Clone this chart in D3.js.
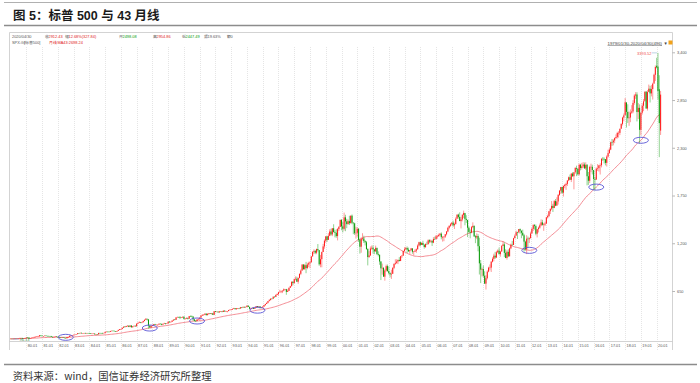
<!DOCTYPE html>
<html><head><meta charset="utf-8">
<script src="https://cdn.jsdelivr.net/npm/d3@7"></script>
<style>body{margin:0;background:#fff}svg{display:block}</style>
</head><body>
<svg id="c" width="700" height="383"></svg>
<script>
// ---- DATA (S&P 500 monthly, 1979-01 .. 2020-04) ----
const startYear = 1979;
const closes = [
99.93,96.28,101.59,101.76,99.08,102.91,103.81,109.32,109.32,101.82,106.16,107.94,
114.16,113.66,102.09,106.29,111.24,114.24,121.67,122.38,125.46,127.47,140.52,135.76,
129.55,131.27,136.00,132.81,132.59,131.21,130.92,122.79,116.18,121.89,126.35,122.55,
120.40,113.11,111.96,116.44,111.88,109.61,107.09,119.51,120.42,133.71,138.54,140.64,
145.30,148.06,152.96,164.42,162.39,168.11,162.56,164.40,166.07,163.55,166.40,164.93,
163.41,157.06,159.18,160.05,150.55,153.18,150.66,166.68,166.10,166.09,163.58,167.24,
179.63,181.18,180.66,179.83,189.55,191.85,190.92,188.63,182.08,189.82,202.17,211.28,
211.78,226.92,238.90,235.52,247.35,250.84,236.12,252.93,231.32,243.98,249.22,242.17,
274.08,284.20,291.70,288.36,290.10,304.00,318.66,329.80,321.83,251.79,230.30,247.08,
257.07,267.82,258.89,261.33,262.16,273.50,272.02,261.52,271.91,278.97,273.70,277.72,
297.47,288.86,294.87,309.64,320.52,317.98,346.08,351.45,349.15,340.36,345.99,353.40,
329.08,331.89,339.94,330.80,361.23,358.02,356.15,322.56,306.05,304.00,322.22,330.22,
343.93,367.07,375.22,375.34,389.83,371.16,387.81,395.43,387.86,392.46,375.22,417.09,
408.79,412.70,403.69,414.95,415.35,408.14,424.21,414.03,417.80,418.68,431.35,435.71,
438.78,443.38,451.67,440.19,450.19,450.53,448.13,463.56,458.93,467.83,461.79,466.45,
481.61,467.14,445.77,450.91,456.50,444.27,458.26,475.49,462.69,472.35,453.69,459.27,
470.42,487.39,500.71,514.71,533.40,544.75,562.06,561.88,584.41,581.50,605.37,615.93,
636.02,640.43,645.50,654.17,669.12,670.63,639.95,651.99,687.31,705.27,757.02,740.74,
786.16,790.82,757.12,801.34,848.28,885.14,954.29,899.47,947.28,914.62,955.40,970.43,
980.28,1049.34,1101.75,1111.75,1090.82,1133.84,1120.67,957.28,1017.01,1098.67,1163.63,1229.23,
1279.64,1238.33,1286.37,1335.18,1301.84,1372.71,1328.72,1320.41,1282.71,1362.93,1388.91,1469.25,
1394.46,1366.42,1498.58,1452.43,1420.60,1454.60,1430.83,1517.68,1436.51,1429.40,1314.95,1320.28,
1366.01,1239.94,1160.33,1249.46,1255.82,1224.42,1211.23,1133.58,1040.94,1059.78,1139.45,1148.08,
1130.20,1106.73,1147.39,1076.92,1067.14,989.82,911.62,916.07,815.28,885.76,936.31,879.82,
855.70,841.15,848.18,916.92,963.59,974.50,990.31,1008.01,995.97,1050.71,1058.20,1111.92,
1131.13,1144.94,1126.21,1107.30,1120.68,1140.84,1101.72,1104.24,1114.58,1130.20,1173.82,1211.92,
1181.27,1203.60,1180.59,1156.85,1191.50,1191.33,1234.18,1220.33,1228.81,1207.01,1249.48,1248.29,
1280.08,1280.66,1294.83,1310.61,1270.09,1270.20,1276.66,1303.82,1335.85,1377.94,1400.63,1418.30,
1438.24,1406.82,1420.86,1482.37,1530.62,1503.35,1455.27,1473.99,1526.75,1549.38,1481.14,1468.36,
1378.55,1330.63,1322.70,1385.59,1400.38,1280.00,1267.38,1282.83,1166.36,968.75,896.24,903.25,
825.88,735.09,797.87,872.81,919.14,919.32,987.48,1020.62,1057.08,1036.19,1095.63,1115.10,
1073.87,1104.49,1169.43,1186.69,1089.41,1030.71,1101.60,1049.33,1141.20,1183.26,1180.55,1257.64,
1286.12,1327.22,1325.83,1363.61,1345.20,1320.64,1292.28,1218.89,1131.42,1253.30,1246.96,1257.60,
1312.41,1365.68,1408.47,1397.91,1310.33,1362.16,1379.32,1406.58,1440.67,1412.16,1416.18,1426.19,
1498.11,1514.68,1569.19,1597.57,1630.74,1606.28,1685.73,1632.97,1681.55,1756.54,1805.81,1848.36,
1782.59,1859.45,1872.34,1883.95,1923.57,1960.23,1930.67,2003.37,1972.29,2018.05,2067.56,2058.90,
1994.99,2104.50,2067.89,2085.51,2107.39,2063.11,2103.84,1972.18,1920.03,2079.36,2080.41,2043.94,
1940.24,1932.23,2059.74,2065.30,2096.95,2098.86,2173.60,2170.95,2168.27,2126.15,2198.81,2238.83,
2278.87,2363.64,2362.72,2384.20,2411.80,2423.41,2470.30,2471.65,2519.36,2575.26,2647.58,2673.61,
2823.81,2713.83,2640.87,2648.05,2705.27,2718.37,2816.29,2901.52,2913.98,2711.74,2760.17,2506.85,
2704.10,2784.49,2834.40,2945.83,2752.06,2941.76,2980.38,2926.46,2976.74,3037.56,3140.98,3230.78,
3225.52,2954.22,2584.59,2912.43
];
const highs = [
102,101,102,104,102,103,105,110,111,110,107,110,
116,119,114,107,112,117,123,126,130,134,141,141,
138,132,138,138,134,134,133,133,123,123,127,127,
123,121,113,119,119,113,112,120,124,137,141,143,
147,149,154,165,166,170,170,165,168,170,167,167,
169,164,160,161,160,155,154,168,169,168,170,168,
180,183,184,183,190,193,196,193,189,190,203,212,
214,227,240,246,248,252,253,254,254,244,251,254,
276,285,301,294,295,309,320,338,330,328,256,252,
260,268,272,265,262,274,276,272,273,284,280,280,
298,300,298,311,322,328,347,354,352,361,347,354,
360,337,345,344,362,368,369,357,326,315,325,331,
344,370,382,384,391,390,391,396,396,393,398,418,
420,414,414,418,419,416,425,425,423,419,432,436,
440,449,456,452,453,453,451,464,464,469,469,471,
483,482,469,453,459,459,459,477,476,474,474,466,
473,488,502,516,534,557,563,564,587,587,609,622,
637,664,656,656,680,673,675,670,690,710,758,762,
794,818,815,804,851,899,960,961,962,986,975,987,
992,1051,1106,1130,1124,1139,1191,1121,1066,1104,1193,1245,
1280,1283,1316,1361,1368,1373,1419,1350,1361,1375,1397,1473,
1478,1445,1553,1528,1481,1474,1517,1519,1531,1443,1437,1390,
1384,1376,1251,1269,1316,1287,1236,1226,1143,1110,1163,1174,
1176,1131,1173,1147,1107,1070,994,966,925,900,954,955,
935,865,895,924,966,1015,1016,1012,1040,1054,1063,1112,
1155,1159,1163,1150,1123,1146,1141,1109,1131,1140,1188,1217,
1218,1212,1229,1192,1199,1219,1245,1245,1243,1233,1271,1276,
1295,1297,1311,1318,1326,1284,1281,1306,1340,1389,1407,1432,
1441,1461,1438,1499,1530,1541,1556,1504,1538,1576,1545,1523,
1471,1396,1359,1398,1441,1405,1293,1314,1304,1264,1007,919,
944,877,832,888,930,956,997,1039,1080,1101,1113,1130,
1150,1113,1180,1220,1209,1131,1120,1130,1151,1196,1228,1263,
1303,1345,1333,1364,1371,1346,1357,1308,1230,1293,1277,1269,
1334,1378,1420,1422,1415,1363,1392,1427,1475,1470,1434,1448,
1504,1530,1570,1598,1687,1655,1698,1710,1730,1768,1814,1849,
1850,1867,1884,1898,1925,1969,1992,2005,2019,2019,2076,2094,
2064,2119,2115,2126,2135,2130,2133,2113,2021,2094,2117,2105,
2038,1962,2073,2112,2103,2121,2178,2194,2188,2169,2214,2278,
2301,2372,2401,2399,2419,2454,2484,2491,2520,2582,2657,2695,
2873,2789,2801,2717,2742,2791,2848,2917,2941,2940,2815,2800,
2708,2813,2861,2949,2954,2964,3028,3014,3022,3050,3154,3248,
3337,3393.52,3136,2954.86
];
const lows = [
96.7,96.13,96.2,100,98,99,102,103,107,99,101,105,
105,111,98,100,104,110,113,117,120,123,126,127,
128,126,129,131,129,129,128,122,112,116,120,121,
114,111,108,111,111,107,102,102,117,120,133,134,
138,142,148,152,159,161,160,159,163,162,161,162,
162,154,154,158,150,149,147,150,163,162,162,161,
163,178,176,177,178,187,189,186,180,181,189,200,
203,210,225,231,234,239,233,234,229,231,239,241,
242,271,281,279,278,289,302,316,309,216,222,223,
242,255,256,256,248,261,264,256,261,270,264,271,
276,287,288,294,306,314,317,344,341,327,338,340,
322,322,331,321,330,356,346,307,300,295,302,320,
309,342,363,370,376,369,371,377,384,380,373,372,
405,407,401,401,409,404,408,413,411,403,418,426,
426,431,442,437,436,442,441,446,451,457,454,460,
465,466,437,435,443,442,443,457,460,458,448,452,
457,469,481,500,508,532,542,555,557,573,579,602,
597,633,625,626,645,659,606,639,650,685,703,716,
737,773,755,733,795,833,885,899,898,855,901,925,
912,979,1045,1076,1074,1074,1105,940,923,923,1099,1137,
1205,1216,1244,1282,1288,1282,1325,1268,1263,1233,1341,1387,
1350,1325,1346,1339,1374,1416,1410,1430,1419,1305,1295,1254,
1275,1215,1081,1091,1232,1203,1175,1124,945,1032,1054,1125,
1081,1074,1102,1064,1049,952,776,838,815,769,872,872,
840,807,789,847,902,951,962,960,990,994,1031,1053,
1105,1124,1088,1102,1076,1113,1079,1060,1099,1090,1128,1163,
1164,1180,1176,1137,1146,1188,1183,1201,1206,1169,1201,1240,
1245,1253,1277,1280,1245,1219,1224,1261,1291,1327,1360,1389,
1403,1390,1364,1416,1484,1484,1455,1371,1452,1490,1407,1435,
1271,1317,1257,1315,1373,1272,1201,1247,1107,840,741,818,
805,731,667,783,866,888,869,979,992,1020,1029,1086,
1071,1045,1105,1168,1040,1028,1011,1040,1049,1132,1173,1181,
1257,1295,1249,1316,1311,1258,1283,1102,1115,1075,1158,1203,
1258,1312,1341,1357,1292,1267,1325,1367,1396,1403,1343,1398,
1426,1485,1501,1537,1582,1560,1604,1627,1633,1646,1746,1768,
1771,1738,1834,1815,1860,1915,1930,1905,1965,1821,2001,1973,
1981,1980,2040,2048,2067,2056,2045,1867,1872,1893,2019,1993,
1812,1810,1937,2034,2026,1992,2074,2148,2119,2097,2084,2187,
2234,2272,2322,2328,2353,2405,2407,2417,2446,2521,2557,2605,
2682,2533,2586,2553,2595,2691,2698,2796,2864,2604,2631,2347,
2444,2682,2722,2848,2751,2729,2952,2822,2892,2855,3050,3070,
3214,2855,2192,2447.49
];
const firstOpen = 96.11;   // open of 1979-01 (= 1978-12 close)
const openOverrides = {"2020-01":3244.67,"2020-02":3235.66,"2020-03":2974.28,"2020-04":2498.08};
const maPeriod = 43;
const yTicks = [650,1200,1750,2300,2850,3400];
const xTickLabels = ["80.01","81.01","82.01","83.01","84.01","85.01","86.01","87.01","88.01","89.01",
"90.01","91.01","92.01","93.01","94.01","95.01","96.01","97.01","98.01","99.01",
"00.01","01.01","02.01","03.01","04.01","05.01","06.01","07.01","08.01","09.01",
"10.01","11.01","12.01","13.01","14.01","15.01","16.01","17.01","18.01","19.01","20.01"];
const circledMonths = ["1982-07","1987-11","1990-11","1994-09","2011-12","2016-03","2019-01"];
const headerLabels = ["2020/04/30","收","2912.43","幅","12.68%(327.84)","开","2498.08","高","2954.86","低","2447.49","振","19.63%","额","0"];
const headerLine2 = ["SPX.GI","[标普500]","月线","MA43:2698.24"];
const rangeLabel = "1979/01/30-2020/04/30(496)";

// ---- BUILD ----
const pad = n => (n < 10 ? "0" : "") + n;
const months = closes.map((_, i) => `${startYear + Math.floor(i / 12)}-${pad(i % 12 + 1)}`);
const monthIndex = m => months.indexOf(m);
const data = closes.map((c, i) => {
  const o = openOverrides[months[i]] !== undefined ? openOverrides[months[i]] : (i === 0 ? firstOpen : closes[i - 1]);
  return { i, o, c, h: highs[i], l: lows[i] };
});
const ma = closes.map((_, i) => d3.mean(closes.slice(Math.max(0, i - maPeriod + 1), i + 1)));

const UP = "#ff1a1a", DOWN = "#0a9a0a";
const svg = d3.select("#c");
const SMALL = "'Liberation Sans','Noto Sans CJK SC',sans-serif";

const x = d3.scaleLinear().domain([0, closes.length - 1]).range([10.6, 660.6]);
const y = d3.scaleLinear().domain([650, 3400]).range([291, 52.3]);

// title & rules
svg.append("line").attr("x1", 4).attr("x2", 697).attr("y1", 2.5).attr("y2", 2.5).attr("stroke", "#b0b0b0").attr("stroke-width", 1);
svg.append("text").attr("x", 13).attr("y", 19.5).attr("font-family", "'Liberation Sans','Noto Sans CJK SC',sans-serif")
  .attr("font-weight", "bold").attr("font-size", 12.5).attr("fill", "#1a1a1a").text("图 5：标普 500 与 43 月线");
svg.append("line").attr("x1", 4).attr("x2", 697).attr("y1", 25.5).attr("y2", 25.5).attr("stroke", "#8c8c8c").attr("stroke-width", 1.5);
svg.append("line").attr("x1", 4).attr("x2", 697).attr("y1", 364.5).attr("y2", 364.5).attr("stroke", "#8c8c8c").attr("stroke-width", 1.5);
svg.append("text").attr("x", 12.7).attr("y", 379.5).attr("font-family", "'Noto Sans CJK SC',sans-serif")
  .attr("font-size", 10.3).attr("fill", "#333").text("资料来源：wind，国信证券经济研究所整理");

// chart frame
const frame = svg.append("g").attr("stroke", "#c8c8c8").attr("stroke-width", 0.8).attr("fill", "none");
frame.append("line").attr("x1", 9.5).attr("x2", 672.5).attr("y1", 32.5).attr("y2", 32.5);
frame.append("line").attr("x1", 9.5).attr("x2", 9.5).attr("y1", 32.5).attr("y2", 350);
frame.append("line").attr("x1", 672.5).attr("x2", 672.5).attr("y1", 32.5).attr("y2", 350);
frame.append("line").attr("x1", 9.5).attr("x2", 672.5).attr("y1", 341.5).attr("y2", 341.5);

// header text
const hx = [12, 45, 48.5, 65, 68.5, 119, 122.5, 153, 156.5, 182, 185.5, 204, 207.5, 227, 230.5];
const hc = ["#555", "#555", "#e02020", "#555", "#e02020", "#555", "#0a9a0a", "#555", "#e02020", "#555", "#0a9a0a", "#555", "#555", "#555", "#555"];
const hdr = svg.append("g").attr("font-family", SMALL).attr("font-size", 3.9);
headerLabels.forEach((t, k) => hdr.append("text").attr("x", hx[k]).attr("y", 38.3).attr("fill", hc[k]).text(t));
const h2x = [12, 24, 49, 57.5], h2c = ["#555", "#555", "#e02020", "#e02020"];
headerLine2.forEach((t, k) => hdr.append("text").attr("x", h2x[k]).attr("y", 44.3).attr("fill", h2c[k]).text(t));
hdr.append("text").attr("x", 662).attr("y", 44.5).attr("text-anchor", "end").attr("font-size", 4.3).attr("fill", "#444")
  .attr("text-decoration", "underline").text(rangeLabel);
hdr.append("text").attr("x", 663.5).attr("y", 44.5).attr("font-size", 4.3).attr("fill", "#444").text("▼");
svg.append("rect").attr("x", 668.5).attr("y", 40.5).attr("width", 4).attr("height", 4).attr("fill", "#f2a21a");

// vertical dotted year gridlines + x labels
const tickIdx = xTickLabels.map(s => { const yy = +s.slice(0, 2); return ((yy >= 50 ? 1900 : 2000) + yy - startYear) * 12; });
svg.append("g").selectAll("line").data(tickIdx).join("line")
  .attr("x1", d => Math.round(x(d)) + 0.5).attr("x2", d => Math.round(x(d)) + 0.5)
  .attr("y1", 47).attr("y2", 350).attr("stroke", "#d4d4d4").attr("stroke-width", 0.6).attr("stroke-dasharray", "1,1");
const xAxis = d3.axisBottom(x).tickValues(tickIdx).tickFormat((d, k) => xTickLabels[k]).tickSize(0).tickPadding(0);
const gx = svg.append("g").attr("transform", "translate(0,341.5)").call(xAxis);
gx.select(".domain").remove();
gx.selectAll("text").attr("text-anchor", "start").attr("dx", 0.9).attr("dy", 0).attr("y", 5.6)
  .attr("font-family", SMALL).attr("font-size", 3.8).attr("fill", "#555");

// right price axis
const yAxis = d3.axisRight(y).tickValues(yTicks).tickSize(2.5).tickPadding(2);
const gy = svg.append("g").attr("transform", "translate(672.5,0)").call(yAxis);
gy.select(".domain").remove();
gy.selectAll("line").attr("stroke", "#888").attr("stroke-width", 0.6);
gy.selectAll("text").attr("font-family", SMALL).attr("font-size", 3.9).attr("fill", "#555");

// MA43 line
svg.append("path").datum(ma).attr("fill", "none").attr("stroke", "#f0707a").attr("stroke-width", 0.8)
  .attr("d", d3.line().x((d, i) => x(i)).y(d => y(d)));

// candles
const cg = svg.append("g");
cg.selectAll("line").data(data).join("line")
  .attr("x1", d => x(d.i)).attr("x2", d => x(d.i))
  .attr("y1", d => y(d.h)).attr("y2", d => y(d.l))
  .attr("stroke", d => d.c >= d.o ? UP : DOWN).attr("stroke-width", 0.45);
cg.selectAll("rect").data(data).join("rect")
  .attr("x", d => x(d.i) - 0.5).attr("width", 1)
  .attr("y", d => y(Math.max(d.o, d.c)))
  .attr("height", d => Math.max(0.5, Math.abs(y(d.o) - y(d.c))))
  .attr("fill", d => d.c >= d.o ? UP : DOWN);

// max / min markers
const hiD = data.reduce((a, b) => (b.h > a.h ? b : a));
const loD = data.reduce((a, b) => (b.l < a.l ? b : a));
svg.append("line").attr("x1", x(hiD.i) - 1).attr("x2", x(hiD.i) - 6).attr("y1", y(hiD.h)).attr("y2", y(hiD.h))
  .attr("stroke", "#7aa7c7").attr("stroke-width", 0.5);
svg.append("text").attr("x", x(hiD.i) - 6.5).attr("y", y(hiD.h) + 1.8).attr("text-anchor", "end")
  .attr("font-family", SMALL).attr("font-size", 4).attr("fill", "#f05050").text(d3.format(".2f")(hiD.h));
svg.append("line").attr("x1", x(loD.i) + 1).attr("x2", x(loD.i) + 7).attr("y1", y(loD.l)).attr("y2", y(loD.l))
  .attr("stroke", "#7a8fc7").attr("stroke-width", 0.6);
svg.append("text").attr("x", x(loD.i) + 7.5).attr("y", y(loD.l) + 1.5)
  .attr("font-family", SMALL).attr("font-size", 4).attr("fill", "#3f8f3f").text(d3.format(".2f")(loD.l));

// purple ellipses at MA touches
svg.append("g").selectAll("ellipse").data(circledMonths.map(monthIndex)).join("ellipse")
  .attr("cx", i => x(i)).attr("cy", i => y(ma[i])).attr("rx", 7.5).attr("ry", 3)
  .attr("fill", "none").attr("stroke", "#5a56d6").attr("stroke-width", 0.9);
</script>
</body></html>
